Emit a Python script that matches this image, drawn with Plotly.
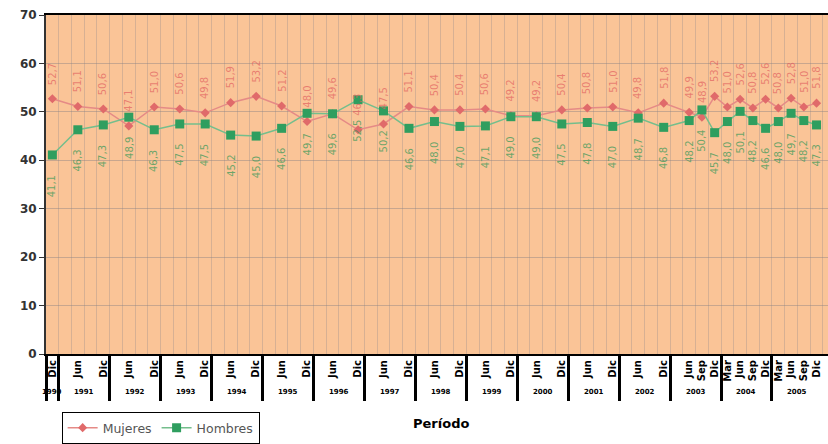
import plotly.graph_objects as go

# ---------------- data ----------------
anios = [1990, 1991, 1992, 1993, 1994, 1995, 1996, 1997, 1998, 1999,
         2000, 2001, 2002, 2003, 2004, 2005]
trimestres = ["Mar", "Jun", "Sep", "Dic"]

periodos = [
    "Dic 1990",
    "Jun 1991", "Dic 1991", "Jun 1992", "Dic 1992", "Jun 1993", "Dic 1993",
    "Jun 1994", "Dic 1994", "Jun 1995", "Dic 1995", "Jun 1996", "Dic 1996",
    "Jun 1997", "Dic 1997", "Jun 1998", "Dic 1998", "Jun 1999", "Dic 1999",
    "Jun 2000", "Dic 2000", "Jun 2001", "Dic 2001", "Jun 2002", "Dic 2002",
    "Jun 2003", "Sep 2003", "Dic 2003",
    "Mar 2004", "Jun 2004", "Sep 2004", "Dic 2004",
    "Mar 2005", "Jun 2005", "Sep 2005", "Dic 2005",
]

mujeres = [52.7, 51.1, 50.6, 47.1, 51.0, 50.6, 49.8, 51.9, 53.2, 51.2,
           48.0, 49.6, 46.3, 47.5, 51.1, 50.4, 50.4, 50.6, 49.2, 49.2,
           50.4, 50.8, 51.0, 49.8, 51.8, 49.9, 48.9, 53.2, 51.0, 52.6,
           50.8, 52.6, 50.8, 52.8, 51.0, 51.8]

hombres = [41.1, 46.3, 47.3, 48.9, 46.3, 47.5, 47.5, 45.2, 45.0, 46.6,
           49.7, 49.6, 52.5, 50.2, 46.6, 48.0, 47.0, 47.1, 49.0, 49.0,
           47.5, 47.8, 47.0, 48.7, 46.8, 48.2, 50.4, 45.7, 48.0, 50.1,
           48.2, 46.6, 48.0, 49.7, 48.2, 47.3]

# full category list (every quarter from Dic 1990 on)
categorias = ["Dic 1990"] + [f"{t} {a}" for a in anios[1:] for t in trimestres]
etiquetas_x = [p.split(" ")[0] for p in periodos]

# group boundaries / centres on the linear twin axis (category index units)
indices_anio = [[i for i, c in enumerate(categorias) if c.endswith(str(a))] for a in anios]
divisores = [g[0] - 0.5 for g in indices_anio]
centros = [(g[0] + g[-1]) / 2 for g in indices_anio]

RANGO_X = [-0.5, 60.9]
ROJO = "#E06A6A"
VERDE = "#2F9E5F"

fig = go.Figure()
fig.add_trace(go.Scatter(
    x=periodos, y=mujeres, name="Mujeres", mode="lines+markers",
    line=dict(color="#E58A86", width=1.5),
    marker=dict(color=ROJO, size=7, symbol="diamond"),
))
fig.add_trace(go.Scatter(
    x=periodos, y=hombres, name="Hombres", mode="lines+markers",
    line=dict(color="#74BE8C", width=1.5),
    marker=dict(color=VERDE, size=9, symbol="square"),
))

annotations = []
for p, v in zip(periodos, mujeres):
    annotations.append(dict(x=p, y=v, xref="x", yref="y", text=f"{v:.1f}".replace(".", ","),
                            textangle=-90, showarrow=False, yshift=25,
                            font=dict(size=10, color="rgba(225,95,95,0.7)", family="DejaVu Sans")))
for p, v in zip(periodos, hombres):
    annotations.append(dict(x=p, y=v, xref="x", yref="y", text=f"{v:.1f}".replace(".", ","),
                            textangle=-90, showarrow=False, yshift=-31,
                            font=dict(size=10, color="rgba(45,150,85,0.7)", family="DejaVu Sans")))
for c, a in zip(centros, anios):
    annotations.append(dict(x=c, y=-0.112, xref="x2", yref="paper", text=str(a),
                            showarrow=False, yanchor="middle",
                            font=dict(size=7, color="black", family="DejaVu Sans", weight="bold")))
annotations.append(dict(x=0.505, y=-0.205, xref="paper", yref="paper", text="Período",
                        showarrow=False, yanchor="middle",
                        font=dict(size=13, color="black", family="DejaVu Sans", weight="bold")))

fig.update_layout(
    width=828, height=444,
    margin=dict(l=46, r=0, t=15, b=89),
    paper_bgcolor="white",
    plot_bgcolor="#FAC497",
    showlegend=True,
    legend=dict(orientation="h", x=0.02, y=-0.172, xanchor="left", yanchor="top",
                bordercolor="black", borderwidth=1, bgcolor="white",
                font=dict(size=12.5, color="#555", family="DejaVu Sans")),
    xaxis=dict(
        type="category", categoryorder="array", categoryarray=categorias,
        range=RANGO_X, tickmode="array", tickvals=periodos, ticktext=etiquetas_x,
        tickangle=-90, showgrid=False, ticks="", showline=True, linecolor="black",
        linewidth=2, mirror=True, automargin=False,
        tickfont=dict(size=10, color="black", family="DejaVu Sans", weight="bold"),
    ),
    xaxis2=dict(
        overlaying="x", anchor="y", side="bottom", range=RANGO_X,
        tickmode="array", tickvals=divisores, showticklabels=False,
        ticks="outside", ticklen=46, tickwidth=2.5, tickcolor="black",
        showgrid=False, zeroline=False, showline=False, automargin=False,
        minor=dict(tick0=-0.5, dtick=1, showgrid=True, gridcolor="rgba(150,140,140,0.35)",
                   gridwidth=1, ticks=""),
    ),
    yaxis=dict(
        range=[0, 70], dtick=10, showgrid=True, gridcolor="rgba(140,130,130,0.45)",
        gridwidth=1, zeroline=False, showline=True, linecolor="#333", linewidth=2,
        ticks="outside", ticklen=5, tickcolor="#333", automargin=False,
        tickfont=dict(size=12, color="#333", family="DejaVu Sans", weight="bold"),
    ),
    annotations=annotations,
)

fig.write_html("out.html", config={"displayModeBar": False},
               post_script="document.body.style.margin='0';")
